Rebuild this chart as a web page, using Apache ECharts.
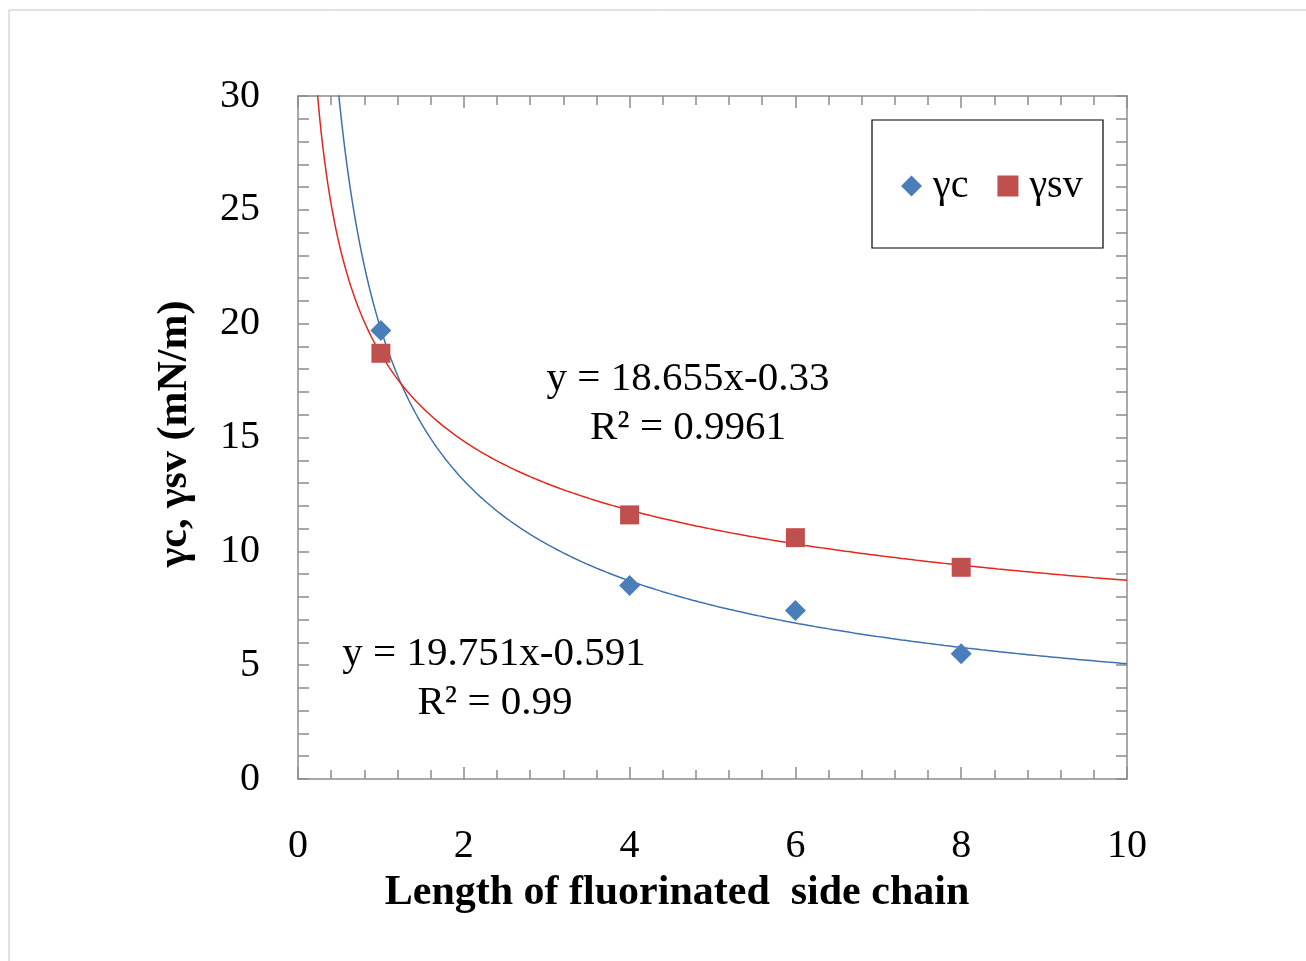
<!DOCTYPE html>
<html>
<head>
<meta charset="utf-8">
<script src="https://cdn.jsdelivr.net/npm/echarts@6/dist/echarts.min.js"></script>
<style>
  html, body { margin: 0; padding: 0; background: #fff; }
  #chart { width: 1306px; height: 961px; }
</style>
</head>
<body>
<div id="chart"></div>
<script>
// measured points
const lengths = [1, 4, 6, 8]
const gammaC = [19.7, 8.5, 7.4, 5.5]
const gammaSV = [18.7, 11.6, 10.6, 9.3]

// power trendlines as printed on the chart: y = a * x^b
const fitC = [19.751, -0.591]
const fitSV = [18.655, -0.33]
const labelsC = ['y = 19.751x-0.591', 'R² = 0.99']
const labelsSV = ['y = 18.655x-0.33', 'R² = 0.9961']

const serif = '"Liberation Serif", "DejaVu Serif", serif'

// trendline drawn from the printed equation
const trend = (fit) => {
  const pts = []
  for (let x = 0.2; x <= 10.0001; x += 0.02) {
    pts.push([x, fit[0] * Math.pow(x, fit[1])])
  }
  return pts
}

const tickStyle = { lineStyle: { color: '#8c8c8c', width: 1.5 } }
const axisLine = { show: true, onZero: false, lineStyle: { color: '#8c8c8c', width: 1.5 } }

const xBase = {
  type: 'value',
  min: 0,
  max: 10,
  interval: 2,
  axisLine,
  axisTick: { show: true, inside: true, length: 12, ...tickStyle },
  minorTick: { show: true, splitNumber: 5, length: 9, ...tickStyle },
  splitLine: { show: false },
}
const yBase = {
  type: 'value',
  min: 0,
  max: 30,
  interval: 5,
  axisLine,
  axisTick: { show: true, inside: true, length: 11, ...tickStyle },
  minorTick: { show: true, splitNumber: 5, length: 11, ...tickStyle },
  splitLine: { show: false },
}

const myChart = echarts.init(document.getElementById('chart'))
myChart.setOption({
  animation: false,
  backgroundColor: '#fff',
  grid: { left: 298, top: 96, width: 829, height: 683 },
  xAxis: [
    {
      ...xBase,
      position: 'bottom',
      axisLabel: { margin: 47, fontSize: 40, color: '#000', fontFamily: serif },
    },
    { ...xBase, position: 'top', axisLabel: { show: false } },
  ],
  yAxis: [
    {
      ...yBase,
      position: 'left',
      axisLabel: { margin: 38, fontSize: 40, color: '#000', fontFamily: serif },
    },
    { ...yBase, position: 'right', axisLabel: { show: false } },
  ],
  legend: {
    data: [
      { name: 'γc', icon: 'diamond' },
      { name: 'γsv', icon: 'rect' },
    ],
    left: 896,
    top: 161,
    itemWidth: 21,
    itemHeight: 21,
    itemGap: 29,
    itemStyle: { opacity: 1 },
    textStyle: { fontSize: 40, fontFamily: serif, color: '#000', padding: [0, 0, 0, 6] },
  },
  series: [
    {
      name: 'trendC',
      type: 'line',
      data: trend(fitC),
      showSymbol: false,
      lineStyle: { color: '#3f6fae', width: 1.5 },
      silent: true,
      z: 1,
    },
    {
      name: 'trendSV',
      type: 'line',
      data: trend(fitSV),
      showSymbol: false,
      lineStyle: { color: '#e3261b', width: 1.5 },
      silent: true,
      z: 1,
    },
    {
      name: 'γc',
      type: 'scatter',
      symbol: 'diamond',
      symbolSize: 21,
      itemStyle: { color: '#4a7ebb', opacity: 1 },
      data: lengths.map((x, i) => [x, gammaC[i]]),
      z: 3,
    },
    {
      name: 'γsv',
      type: 'scatter',
      symbol: 'rect',
      symbolSize: 19,
      itemStyle: { color: '#c0504d', opacity: 1 },
      data: lengths.map((x, i) => [x, gammaSV[i]]),
      z: 3,
    },
  ],
  graphic: [
    // page frame
    { type: 'line', shape: { x1: 9, y1: 10, x2: 1306, y2: 10 }, style: { stroke: '#c4c4c4', lineWidth: 1 } },
    { type: 'line', shape: { x1: 9, y1: 10, x2: 9, y2: 961 }, style: { stroke: '#c4c4c4', lineWidth: 1 } },
    // legend frame
    {
      type: 'rect',
      z: -1,
      shape: { x: 872, y: 120, width: 231, height: 128 },
      style: { fill: '#fff', stroke: '#000', lineWidth: 1.2 },
    },
    // trendline labels
    { type: 'text', x: 688, y: 379, style: { text: labelsSV[0], font: '41px ' + serif, fill: '#000', textAlign: 'center', textVerticalAlign: 'middle' } },
    { type: 'text', x: 688, y: 428, style: { text: labelsSV[1], font: '41px ' + serif, fill: '#000', textAlign: 'center', textVerticalAlign: 'middle' } },
    { type: 'text', x: 494, y: 654, style: { text: labelsC[0], font: '41px ' + serif, fill: '#000', textAlign: 'center', textVerticalAlign: 'middle' } },
    { type: 'text', x: 495, y: 703, style: { text: labelsC[1], font: '41px ' + serif, fill: '#000', textAlign: 'center', textVerticalAlign: 'middle' } },
    // axis titles
    {
      type: 'text', x: 677, y: 893,
      style: { text: 'Length of fluorinated  side chain', font: 'bold 42px ' + serif, fill: '#000', textAlign: 'center', textVerticalAlign: 'middle' },
    },
    {
      type: 'text', x: 175, y: 434, rotation: Math.PI / 2,
      style: { text: 'γc, γsv (mN/m)', font: 'bold 42px ' + serif, fill: '#000', textAlign: 'center', textVerticalAlign: 'middle' },
    },
  ],
})
</script>
</body>
</html>
